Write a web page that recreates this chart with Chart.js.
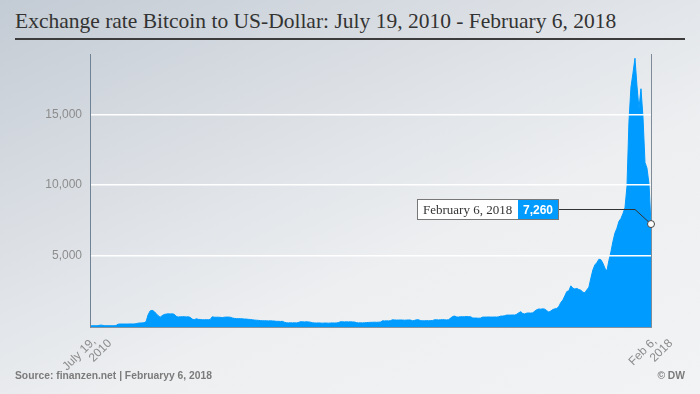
<!DOCTYPE html>
<html lang="en">
  <head>
    <meta charset="utf-8" />
    <title>Exchange rate Bitcoin to US-Dollar</title>
    <style>
      * {
        margin: 0;
        padding: 0;
      }
      body {
        width: 700px;
        height: 394px;
        overflow: hidden;
      }
      .card {
        position: relative;
        width: 700px;
        height: 394px;
        background: linear-gradient(155deg, #c3cbd4 0%, #dce0e5 35%, #edeff1 62%, #f2f3f5 100%);
      }
      .title {
        position: absolute;
        left: 15px;
        top: 9px;
        font: normal 21.5px "Liberation Serif", serif;
        color: #333;
        white-space: nowrap;
      }
      .rule {
        position: absolute;
        left: 15px;
        top: 38px;
        width: 670px;
        height: 2px;
        background: #3c3c3c;
      }
      .chartBox {
        position: absolute;
        left: 0;
        top: 0;
        width: 700px;
        height: 394px;
      }
      .source,
      .dw {
        position: absolute;
        top: 370px;
        font: bold 10.3px "Liberation Sans", sans-serif;
        color: #7b7b7b;
      }
      .source {
        left: 15px;
      }
      .dw {
        right: 15px;
      }
    </style>
  </head>
  <body>
    <div class="card">
      <h1 class="title">Exchange rate Bitcoin to US-Dollar: July 19, 2010 - February 6, 2018</h1>
      <div class="rule"></div>
      <div class="chartBox">
        <canvas id="myChart"></canvas>
      </div>
      <div class="source">Source: finanzen.net | Februaryy 6, 2018</div>
      <div class="dw">© DW</div>
    </div>

    <script src="https://cdn.jsdelivr.net/npm/chart.js"></script>

    <script>
      // closing prices in USD (evenly spaced samples)
      const prices = [
        80, 90, 90, 90, 90, 130, 130, 90, 90, 90, 90, 90, 90, 100, 200, 210, 210, 210, 210, 210,
        220, 210, 220, 230, 270, 280, 290, 300, 380, 860, 1130, 1180, 1100, 950, 800, 690, 800, 880, 910, 930,
        920, 930, 900, 760, 700, 720, 720, 730, 710, 720, 680, 560, 510, 580, 540, 530, 510, 510, 520, 510,
        530, 720, 690, 690, 690, 680, 660, 690, 700, 700, 690, 640, 610, 590, 590, 590, 580, 560, 560, 540,
        530, 510, 490, 480, 470, 450, 440, 440, 440, 430, 440, 430, 420, 400, 400, 390, 400, 340, 300, 290,
        300, 290, 300, 290, 320, 370, 370, 360, 370, 360, 340, 300, 290, 280, 290, 280, 270, 280, 280, 270,
        280, 290, 280, 290, 310, 370, 370, 360, 370, 360, 370, 360, 350, 310, 290, 300, 290, 300, 310, 320,
        330, 330, 340, 330, 340, 350, 440, 430, 440, 430, 450, 510, 500, 490, 490, 500, 490, 480, 490, 500,
        490, 440, 470, 510, 510, 450, 440, 440, 450, 440, 450, 460, 510, 510, 500, 510, 520, 510, 500, 520,
        630, 740, 770, 710, 700, 730, 720, 730, 740, 730, 720, 640, 630, 630, 620, 630, 700, 700, 700, 710,
        700, 700, 710, 700, 720, 770, 770, 800, 840, 840, 840, 850, 840, 900, 1000, 1080, 950, 920, 980, 990,
        980, 1000, 1120, 1220, 1270, 1260, 1280, 1260, 1150, 1050, 1130, 1230, 1280, 1310, 1450, 1730, 1900, 2200, 2500, 2550,
        2900, 2740, 2680, 2720, 2640, 2600, 2450, 2420, 2620, 2810, 3450, 4030, 4380, 4540, 4780, 4740, 4500, 4150, 3950, 4700,
        5300, 6030, 6620, 6970, 7450, 7650, 8000, 8400, 9900, 14500, 16920, 17900, 18950, 17000, 15400, 16800, 14800, 11600, 11200, 10100, 7260,
      ];

      // first line carries trailing spaces so the year line reaches further out, as in the original
      const startLabel = ["July 19,   ", "2010"];
      const endLabel = ["Feb 6,   ", "2018"];
      const lastDateLabel = "February 6, 2018";
      const yTicks = [5000, 10000, 15000];
      const yMax = 19250;

      const areaBlue = "#009bff";

      const labels = prices.map((p, i) =>
        i === 0 ? startLabel : i === prices.length - 1 ? endLabel : ""
      );

      // marker, leader line and label box for the last value
      const lastValueMarker = {
        id: "lastValueMarker",
        afterDraw(chart) {
          const {
            ctx,
            chartArea: { top, bottom },
          } = chart;
          const meta = chart.getDatasetMeta(0);
          const pt = meta.data[meta.data.length - 1];
          const value = prices[prices.length - 1];

          ctx.save();

          const vx = Math.round(pt.x) + 0.5;
          ctx.strokeStyle = "#7f8c97";
          ctx.lineWidth = 1;
          ctx.beginPath();
          ctx.moveTo(vx, top);
          ctx.lineTo(vx, bottom);
          ctx.stroke();

          const ly = Math.round(pt.y - 15) + 0.5;
          const boxRight = Math.round(pt.x - 92);

          ctx.strokeStyle = "#333";
          ctx.beginPath();
          ctx.moveTo(boxRight, ly);
          ctx.lineTo(pt.x - 16, ly);
          ctx.lineTo(pt.x, pt.y);
          ctx.stroke();

          ctx.font = "bold 12px 'Liberation Sans'";
          const valText = value.toLocaleString("en-US");
          const blueW = Math.round(ctx.measureText(valText).width + 11);
          ctx.font = "13px 'Liberation Serif'";
          const whiteW = Math.round(ctx.measureText(lastDateLabel).width + 12);

          const boxTop = Math.round(ly - 10.5);
          const h = 21;
          const blueX = boxRight - blueW;
          const whiteX = blueX - whiteW;

          ctx.fillStyle = "#fff";
          ctx.fillRect(whiteX, boxTop, whiteW, h);
          ctx.fillStyle = areaBlue;
          ctx.fillRect(blueX, boxTop, blueW, h);
          ctx.strokeStyle = "#777";
          ctx.strokeRect(whiteX + 0.5, boxTop + 0.5, whiteW + blueW - 1, h - 1);

          ctx.textBaseline = "middle";
          ctx.textAlign = "left";
          ctx.fillStyle = "#333";
          ctx.fillText(lastDateLabel, whiteX + 6, boxTop + h / 2 + 1);
          ctx.font = "bold 12px 'Liberation Sans'";
          ctx.fillStyle = "#fff";
          ctx.fillText(valText, blueX + 5, boxTop + h / 2 + 1);

          ctx.beginPath();
          ctx.arc(pt.x, pt.y, 3.5, 0, Math.PI * 2);
          ctx.fillStyle = "#fff";
          ctx.fill();
          ctx.strokeStyle = "#444";
          ctx.stroke();

          ctx.restore();
        },
      };

      const config = {
        type: "line",
        data: {
          labels: labels,
          datasets: [
            {
              data: prices,
              backgroundColor: areaBlue,
              borderColor: areaBlue,
              borderWidth: 1,
              fill: "origin",
              pointRadius: 0,
              tension: 0,
            },
          ],
        },
        options: {
          responsive: true,
          maintainAspectRatio: false,
          animation: false,
          layout: {
            padding: { top: 54, right: 49, left: 0, bottom: 0 },
          },
          plugins: {
            legend: { display: false },
            tooltip: { enabled: false },
          },
          scales: {
            x: {
              grid: { display: false, drawTicks: false },
              border: { color: "#8593a0", z: 2 },
              ticks: {
                autoSkip: false,
                maxRotation: 45,
                minRotation: 45,
                padding: 1,
                labelOffset: 11,
                color: "#8c8c8c",
                font: { family: "Liberation Sans", size: 12, lineHeight: 1.05 },
              },
              afterFit: (scale) => {
                scale.height = 67;
              },
            },
            y: {
              min: 0,
              max: yMax,
              grid: { color: "#ffffff", lineWidth: 1.5, drawTicks: false, z: 1 },
              border: { color: "#6f8395", z: 2 },
              ticks: {
                padding: 8,
                color: "#8c8c8c",
                font: { family: "Liberation Sans", size: 12 },
                callback: (v) => v.toLocaleString("en-US"),
              },
              afterBuildTicks: (scale) => {
                scale.ticks = yTicks.map((v) => ({ value: v }));
              },
              afterFit: (scale) => {
                scale.width = 90;
              },
            },
          },
        },
        plugins: [lastValueMarker],
      };

      const myChart = new Chart(document.getElementById("myChart"), config);
    </script>
  </body>
</html>
